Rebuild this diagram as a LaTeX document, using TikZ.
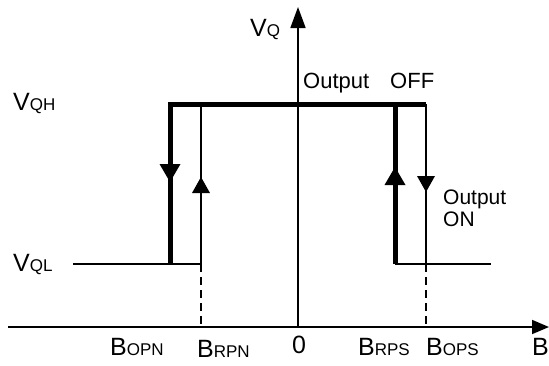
\documentclass[tikz,border=0pt]{standalone}
\usepackage{fontspec}
\setmainfont{Liberation Sans}
\usetikzlibrary{arrows.meta,decorations.markings}
\newcommand{\biglab}[2]{{\fontsize{25}{28}\selectfont #1}{\fontsize{17}{20}\selectfont #2}}
\begin{document}
\begin{tikzpicture}[x=1pt,y=-1pt,
  txt/.style={inner sep=0pt, anchor=base west},
  axisline/.style={line width=1.7pt},
  thinline/.style={line width=1.9pt},
  thickline/.style={line width=5pt},
  dashline/.style={line width=1.6pt, dash pattern=on 8pt off 5pt},
  bigtip/.style={postaction={decorate},decoration={markings,
     mark=at position #1 with {\arrow{Triangle[width=21pt,length=18pt,line width=0pt]}}}},
  smalltip/.style={postaction={decorate},decoration={markings,
     mark=at position #1 with {\arrow{Triangle[width=18pt,length=16pt,line width=0pt]}}}}]
\useasboundingbox (0,0) rectangle (549,365);
% axes
\coordinate (o) at (298,327);
\coordinate (ytop) at (298,7);
\coordinate (xl) at (8,327);
\coordinate (xr) at (549,327);
\draw[axisline,-{Triangle[width=15pt,length=21pt]}] (o) -- (ytop);
\draw[axisline,-{Triangle[width=14pt,length=17pt]}] (xl) -- (xr);
% key points
\coordinate (opnH) at (170,104);
\coordinate (opnL) at (170,264);
\coordinate (rpnH) at (201,104);
\coordinate (rpnL) at (201,264);
\coordinate (rpnA) at (201,327);
\coordinate (rpsH) at (395,104);
\coordinate (rpsL) at (395,264);
\coordinate (opsH) at (426,104);
\coordinate (opsL) at (426,264);
\coordinate (opsA) at (426,327);
\coordinate (lowL) at (73,264);
\coordinate (lowR) at (491,264);
% low levels
\draw[thinline] (lowL) -- (rpnL);
\draw[thinline] (rpsL) -- (lowR);
% thin transitions
\draw[thinline,smalltip=87pt] (rpnL) -- (rpnH);
\draw[thinline,smalltip=88pt] (opsH) -- (opsL);
% thick transitions
\draw[thickline,bigtip=334pt] (opsH) -- (opnH) -- (opnL);
\draw[thickline,bigtip=97pt] (rpsL) -- (rpsH);
% dashed projections
\draw[dashline] (rpnL) -- (rpnA);
\draw[dashline] (opsL) -- (opsA);
% labels
\node[txt] (vq) at (250,36) {\biglab{V}{Q}};
\node[txt] (vqh) at (13,110) {\biglab{V}{QH}};
\node[txt] (vql) at (13,271) {\biglab{V}{QL}};
\node[txt] (off) at (303,88) {\fontsize{22}{26}\selectfont Output\hspace{21pt}OFF};
\node[txt,align=left,font=\fontsize{21}{22}\selectfont] (on) at (443,226) {Output\\ON};
\node[txt] (bopn) at (110,355) {\biglab{B}{OPN}};
\node[txt] (brpn) at (197,357) {\biglab{B}{RPN}};
\node[txt] (zero) at (292,353) {\fontsize{25}{28}\selectfont 0};
\node[txt] (brps) at (358,355) {\biglab{B}{RPS}};
\node[txt] (bops) at (426,355) {\biglab{B}{OPS}};
\node[txt] (bax) at (532,355) {\fontsize{25}{28}\selectfont B};
\end{tikzpicture}
\end{document}
